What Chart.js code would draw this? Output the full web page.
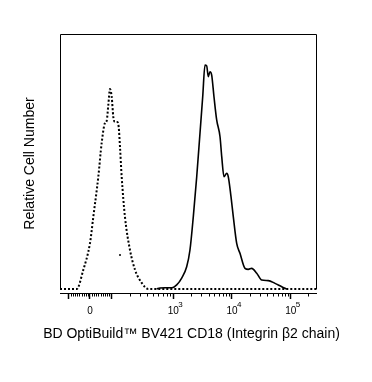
<!DOCTYPE html>
<html>
<head>
<meta charset="utf-8">
<script src="https://cdn.jsdelivr.net/npm/chart.js@4.4.1/dist/chart.umd.min.js"></script>
<style>
  html, body { margin: 0; padding: 0; background: #fff; }
  #wrap { width: 372px; height: 382px; }
</style>
</head>
<body>
<div id="wrap"><canvas id="histChart" width="372" height="382"></canvas></div>
<script>
// x values are positions on the biexponential display axis: 10^3 sits at 3, 10^4 at 4, 10^5 at 5
const isotypeX = [1.070, 1.354, 1.467, 1.581, 1.637, 1.722, 1.780, 1.836, 1.865, 1.893, 1.922, 1.951,
                  1.978, 2.007, 2.046, 2.070, 2.092, 2.121, 2.177, 2.262, 2.348, 2.462, 2.574, 5.431];
const isotypeY = [0, 0, 7.5, 18.0, 28.2, 43.9, 57.3, 65.1, 65.9, 72.2, 78.4, 75.3,
                  67.5, 65.5, 65.5, 63.5, 55.7, 43.9, 28.2, 15.3, 7.5, 2.4, 0, 0];

const stainedX = [2.717, 2.773, 2.859, 2.978, 3.058, 3.143, 3.228, 3.284, 3.341, 3.399, 3.455, 3.501,
                  3.540, 3.569, 3.596, 3.625, 3.654, 3.693, 3.739, 3.796, 3.825, 3.864, 3.910, 3.937,
                  3.983, 4.022, 4.080, 4.136, 4.221, 4.278, 4.336, 4.421, 4.506, 4.618, 4.733, 4.847, 4.932];
const stainedY = [0, 0.4, 0.5, 0.5, 1.6, 4.3, 8.7, 15.3, 28.4, 44.0, 61.2, 75.4,
                  87.8, 87.5, 83.3, 85.2, 83.9, 75.4, 66.3, 59.7, 51.9, 44.0, 45.4, 44.0,
                  36.2, 28.4, 17.9, 14.0, 8.1, 7.7, 8.1, 6.2, 3.5, 3.3, 2.2, 0.9, 0];

// single stray event of the isotype histogram
const strayX = [2.092];
const strayY = [13.3];

// axis ticks
const majorTickPos = [1.223, 1.581, 1.939, 3, 4, 5];
const majorTickLabels = ['', '0', '', '10', '10', '10'];
const tickExponents = ['', '', '', '3', '4', '5'];
const zeroPos = 1.581;
const linStep = 0.0358;            // 10 units near zero
const lowTickPos = [2.254, 2.435, 2.559, 2.660, 2.745, 2.820, 2.887, 2.944];  // 200 .. 900

const xMin = 1.070, xMax = 5.431;
const yMin = -1.57, yMax = 100;

const xTitle = 'BD OptiBuild™ BV421 CD18 (Integrin β2 chain)';
const yTitle = 'Relative Cell Number';

const minorTickPos = [];
for (let i = 1; i <= 9; i++) {
    minorTickPos.push(zeroPos - i * linStep, zeroPos + i * linStep);
}
lowTickPos.forEach(p => minorTickPos.push(p));
[3, 4, 5].forEach(d => {
    for (let m = 2; m <= 9; m++) {
        const p = d + Math.log10(m);
        if (p < xMax) minorTickPos.push(p);
    }
});

const fontFamily = '"Liberation Sans", Arial, sans-serif';

const toPoints = (xs, ys) => xs.map((x, i) => ({ x: x, y: ys[i] }));

// frame (left/top/right), minor ticks, decade exponents and the x title
const axisExtras = {
    id: 'axisExtras',
    afterDraw(chart) {
        const { ctx, chartArea } = chart;
        const xs = chart.scales.x;
        const ys = chart.scales.y;
        const y0 = Math.round(ys.getPixelForValue(0)) + 0.5;
        ctx.save();
        ctx.strokeStyle = '#000';
        ctx.lineWidth = 1;
        ctx.beginPath();
        ctx.moveTo(chartArea.left + 0.5, y0);
        ctx.lineTo(chartArea.left + 0.5, chartArea.top + 0.5);
        ctx.lineTo(chartArea.right + 0.5, chartArea.top + 0.5);
        ctx.lineTo(chartArea.right + 0.5, y0);
        ctx.stroke();

        ctx.beginPath();
        minorTickPos.forEach(v => {
            const px = Math.round(xs.getPixelForValue(v)) + 0.5;
            ctx.moveTo(px, chartArea.bottom);
            ctx.lineTo(px, chartArea.bottom + 3.5);
        });
        ctx.stroke();

        ctx.fillStyle = '#000';
        ctx.font = '8px ' + fontFamily;
        ctx.textAlign = 'left';
        ctx.textBaseline = 'top';
        tickExponents.forEach((e, i) => {
            if (!e) return;
            const px = xs.getPixelForValue(majorTickPos[i]);
            ctx.fillText(e, px + 5, chartArea.bottom + 7.5);
        });

        // x title: drawn here so Chart.js does not squeeze it to the axis width
        ctx.font = '14px ' + fontFamily;
        ctx.textAlign = 'center';
        ctx.textBaseline = 'middle';
        ctx.fillText(xTitle, (chartArea.left + chartArea.right) / 2 + 3.5, chartArea.bottom + 41);
        ctx.restore();
    }
};

const ctx = document.getElementById('histChart').getContext('2d');
const histChart = new Chart(ctx, {
    type: 'line',
    data: {
        datasets: [
            {
                label: 'Isotype control',
                data: toPoints(isotypeX, isotypeY),
                borderColor: '#000',
                borderWidth: 2,
                borderDash: [2, 2],
                pointRadius: 0,
                fill: false,
                cubicInterpolationMode: 'monotone',
                order: 2
            },
            {
                label: 'Stray event',
                data: toPoints(strayX, strayY),
                showLine: false,
                pointRadius: 1,
                pointBackgroundColor: '#000',
                pointBorderWidth: 0,
                order: 3
            },
            {
                label: 'CD18',
                data: toPoints(stainedX, stainedY),
                borderColor: '#000',
                borderWidth: 1.6,
                pointRadius: 0,
                fill: false,
                cubicInterpolationMode: 'monotone',
                order: 1
            }
        ]
    },
    options: {
        responsive: false,
        animation: false,
        devicePixelRatio: 1,
        layout: {
            padding: { top: 34, right: 56, left: 0, bottom: 0 }
        },
        plugins: {
            legend: { display: false },
            tooltip: { enabled: false }
        },
        scales: {
            x: {
                type: 'linear',
                min: xMin,
                max: xMax,
                afterBuildTicks: scale => {
                    scale.ticks = majorTickPos.map(v => ({ value: v }));
                },
                afterFit: scale => { scale.height = 89; },
                ticks: {
                    autoSkip: false,
                    maxRotation: 0,
                    padding: 6,
                    color: '#000',
                    font: { family: fontFamily, size: 10 },
                    callback: (value, index) => majorTickLabels[index]
                },
                grid: {
                    drawOnChartArea: false,
                    drawTicks: true,
                    tickLength: 6,
                    tickColor: '#000',
                    tickWidth: 1.5
                },
                border: { display: true, color: '#000', width: 1 }
            },
            y: {
                min: yMin,
                max: yMax,
                afterFit: scale => { scale.width = 60; },
                ticks: { display: false },
                grid: { display: false },
                border: { display: false },
                title: {
                    display: true,
                    text: yTitle,
                    color: '#000',
                    font: { family: fontFamily, size: 14 },
                    padding: { top: 21.5, bottom: 0 }
                }
            }
        }
    },
    plugins: [axisExtras]
});
</script>
</body>
</html>
